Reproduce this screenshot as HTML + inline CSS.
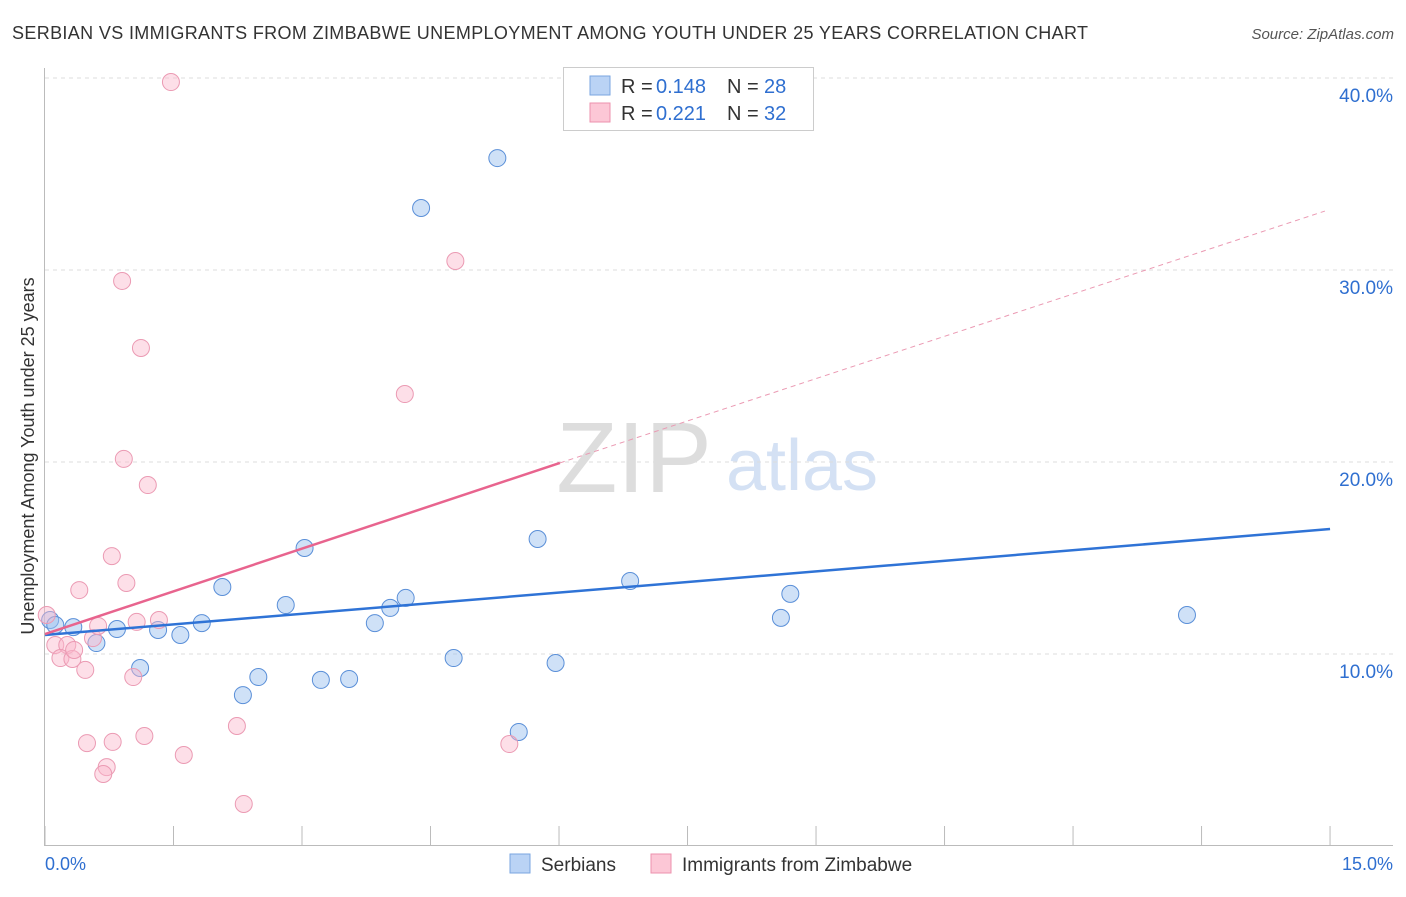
<!DOCTYPE html>
<html><head><meta charset="utf-8"><style>
body{margin:0;background:#fff;font-family:"Liberation Sans",sans-serif;}
svg text{font-family:"Liberation Sans",sans-serif;}
</style></head><body>
<svg id="chart" width="1406" height="892" xmlns="http://www.w3.org/2000/svg">
<text x="12" y="39" font-size="18" fill="#333" textLength="1076">SERBIAN VS IMMIGRANTS FROM ZIMBABWE UNEMPLOYMENT AMONG YOUTH UNDER 25 YEARS CORRELATION CHART</text>
<text x="1394" y="39" font-size="15" fill="#555" font-style="italic" text-anchor="end">Source: ZipAtlas.com</text>
<g>
<text x="634" y="492" font-size="100" fill="#ddd" text-anchor="middle" font-family="Liberation Serif,serif">ZIP</text>
<text x="802" y="490" font-size="72" fill="#d4e1f4" text-anchor="middle">atlas</text>
</g>
<g id="grid"></g>
<g id="axes"></g>
<g id="marks"></g>
<g>
<rect x="563.5" y="67.5" width="250" height="63" fill="#fff" stroke="#ccc"/>
<rect x="590" y="76" width="20" height="19" fill="#bad3f5" stroke="#7aa6e0"/>
<rect x="590" y="103" width="20" height="19" fill="#fcc7d6" stroke="#ec92ad"/>
<g font-size="20">
<text x="621" y="93" fill="#333">R =</text>
<text x="656" y="93" fill="#2f6fd0">0.148</text>
<text x="727" y="93" fill="#333">N =</text>
<text x="764" y="93" fill="#2f6fd0">28</text>
<text x="621" y="120" fill="#333">R =</text>
<text x="656" y="120" fill="#2f6fd0">0.221</text>
<text x="727" y="120" fill="#333">N =</text>
<text x="764" y="120" fill="#2f6fd0">32</text>
</g>
</g>
<text transform="translate(34,456) rotate(-90)" font-size="18" fill="#333" text-anchor="middle">Unemployment Among Youth under 25 years</text>
<text x="45" y="870" font-size="18" fill="#2f6fd0">0.0%</text>
<text x="1393" y="870" font-size="18" fill="#2f6fd0" text-anchor="end">15.0%</text>
<g>
<rect x="510" y="854" width="20" height="19" fill="#bad3f5" stroke="#7aa6e0"/>
<text x="541" y="871" font-size="19" fill="#333">Serbians</text>
<rect x="651" y="854" width="20" height="19" fill="#fcc7d6" stroke="#ec92ad"/>
<text x="682" y="871" font-size="19" fill="#333">Immigrants from Zimbabwe</text>
</g>
</svg>
<script>
const yTicks=[10,20,30,40];
const yTickLabels=["10.0%","20.0%","30.0%","40.0%"];
const xTicks=[0,1.5,3,4.5,6,7.5,9,10.5,12,13.5,15];
const serbX=[0.06,0.12,0.33,0.60,0.84,1.11,1.32,1.58,1.83,2.07,2.31,2.49,2.81,3.03,3.22,3.55,3.85,4.03,4.21,4.39,4.77,5.28,5.53,5.75,5.96,6.83,8.59,8.70,13.33];
const serbY=[11.77,11.51,11.4,10.57,11.3,9.27,11.25,10.99,11.61,13.49,7.86,8.80,12.55,15.52,8.65,8.70,11.61,12.40,12.92,33.23,9.79,35.83,5.94,15.99,9.53,13.80,11.88,13.13,12.03];
const zimX=[1.47,0.90,1.12,4.79,4.20,0.92,1.20,0.78,0.40,0.95,0.02,0.12,0.26,0.18,0.32,0.34,0.47,0.56,0.62,1.03,1.07,1.33,0.49,0.79,1.16,0.72,0.68,1.62,2.24,2.32,5.42];
const zimY=[39.79,29.43,25.94,30.47,23.54,20.16,18.80,15.10,13.33,13.70,12.03,10.47,10.47,9.79,9.74,10.21,9.17,10.83,11.46,8.80,11.67,11.77,5.36,5.42,5.73,4.11,3.75,4.74,6.25,2.19,5.31];
const serbTrend=[10.99,16.51];
const zimTrend=[11.04,19.95,33.07];
const zimTrendX=[0,6.01,14.94];
const NS='http://www.w3.org/2000/svg';
const X=v=>45+v*85.67, Y=v=>846-v*19.2;
function mk(t,a,p){const e=document.createElementNS(NS,t);for(const k in a)e.setAttribute(k,a[k]);p.appendChild(e);return e;}
const grid=document.getElementById('grid'),axes=document.getElementById('axes'),marks=document.getElementById('marks');
yTicks.forEach((t,i)=>{
 const l=mk('line',{x1:45,x2:1393,y1:Y(t),y2:Y(t),stroke:'#ddd','stroke-dasharray':'4,4'},grid);
 
 
 const tx=mk('text',{x:1393,y:Y(t)+24,'font-size':19,fill:'#2f6fd0','text-anchor':'end'},grid);
 tx.textContent=yTickLabels[i];
 
 
});
let a=mk('line',{x1:44.5,x2:44.5,y1:68,y2:846,stroke:'#bbb'},axes);


a=mk('line',{x1:44,x2:1393,y1:845.5,y2:845.5,stroke:'#bbb'},axes);


xTicks.forEach(t=>{
 const l=mk('line',{x1:X(t),x2:X(t),y1:826,y2:846,stroke:'#bbb'},axes);
 
 
});
serbX.forEach((x,i)=>{
 const c=mk('circle',{cx:X(x),cy:Y(serbY[i]),r:8.5,fill:'rgba(160,196,240,0.5)',stroke:'#5a8fd8','stroke-width':1},marks);
 
 
});
zimX.forEach((x,i)=>{
 const c=mk('circle',{cx:X(x),cy:Y(zimY[i]),r:8.5,fill:'rgba(250,185,205,0.45)',stroke:'#eb9ab3','stroke-width':1},marks);
 
 
});
let t=mk('line',{x1:X(0),y1:Y(serbTrend[0]),x2:X(15),y2:Y(serbTrend[1]),stroke:'#2f73d6','stroke-width':2.5},marks);


t=mk('line',{x1:X(zimTrendX[0]),y1:Y(zimTrend[0]),x2:X(zimTrendX[1]),y2:Y(zimTrend[1]),stroke:'#e8648e','stroke-width':2.5},marks);


t=mk('line',{x1:X(zimTrendX[1]),y1:Y(zimTrend[1]),x2:X(zimTrendX[2]),y2:Y(zimTrend[2]),stroke:'#eb9ab3','stroke-width':1,'stroke-dasharray':'5,4'},marks);


</script>
</body></html>
